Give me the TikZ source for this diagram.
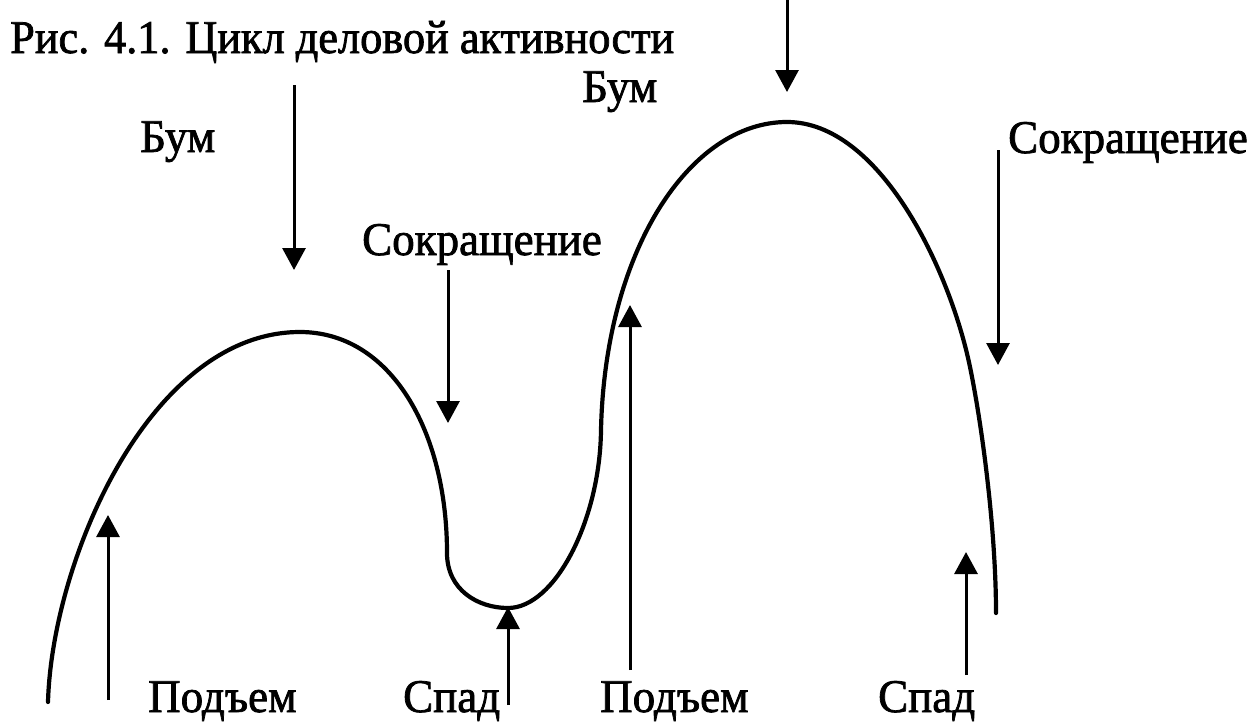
\documentclass[tikz,border=0pt]{standalone}
\usepackage{fontspec}
\setmainfont{Liberation Serif}
\newfontfamily\lblfont{Liberation Serif}[FakeBold=1.6]
\usetikzlibrary{arrows.meta}
\tikzset{
  lbl/.style={anchor=base west, inner sep=0pt, font=\lblfont\fontsize{45}{54}\selectfont},
  curve/.style={line width=4.2pt, line cap=round},
  arr/.style={line width=3pt, -{Triangle[width=23pt,length=22pt]}}
}
\begin{document}
\begin{tikzpicture}[x=1pt,y=-1pt]
\useasboundingbox (0,0) rectangle (1251,721);
% labels
\node[lbl] (title) at (10,53) {\scalebox{0.985}[1.04]{Рис. 4.1. Цикл деловой активности}};
\node[lbl] (bum1) at (140,152) {\scalebox{1}[1.04]{Бум}};
\node[lbl] (bum2) at (582,102) {\scalebox{1}[1.04]{Бум}};
\node[lbl] (sokr1) at (362,255) {\scalebox{1}[1.04]{Сокращение}};
\node[lbl] (sokr2) at (1008,153) {\scalebox{1}[1.04]{Сокращение}};
\node[lbl] (pod1) at (148,712) {\scalebox{1}[1.04]{Подъем}};
\node[lbl] (spad1) at (403,712) {\scalebox{1}[1.04]{Спад}};
\node[lbl] (pod2) at (600,712) {\scalebox{1}[1.04]{Подъем}};
\node[lbl] (spad2) at (878,712) {\scalebox{1}[1.04]{Спад}};
% business cycle curve
\draw[curve] (48,702) .. controls (52,560) and (150,332) .. (300,332)
  .. controls (390,332) and (447,430) .. (447,553)
  .. controls (447,590) and (478,608) .. (508,608)
  .. controls (555,608) and (600,520) .. (601,430)
  .. controls (605,250) and (690,122) .. (787,122)
  .. controls (880,122) and (950,270) .. (970,367)
  .. controls (982,425) and (996,530) .. (996,613);
% arrow end points
\coordinate (a1s) at (294,85);  \coordinate (a1e) at (294,270);
\coordinate (a2s) at (448,270); \coordinate (a2e) at (448,423);
\coordinate (a3s) at (787,0);   \coordinate (a3e) at (787,92);
\coordinate (a4s) at (998,150); \coordinate (a4e) at (998,365);
\coordinate (a5s) at (108,700); \coordinate (a5e) at (108,515);
\coordinate (a6s) at (508,705); \coordinate (a6e) at (508,607);
\coordinate (a7s) at (630,670); \coordinate (a7e) at (630,305);
\coordinate (a8s) at (966,675); \coordinate (a8e) at (966,552);
\draw[arr] (a1s) -- (a1e);
\draw[arr] (a2s) -- (a2e);
\draw[arr] (a3s) -- (a3e);
\draw[arr] (a4s) -- (a4e);
\draw[arr] (a5s) -- (a5e);
\draw[arr] (a6s) -- (a6e);
\draw[arr] (a7s) -- (a7e);
\draw[arr] (a8s) -- (a8e);
\end{tikzpicture}
\end{document}
